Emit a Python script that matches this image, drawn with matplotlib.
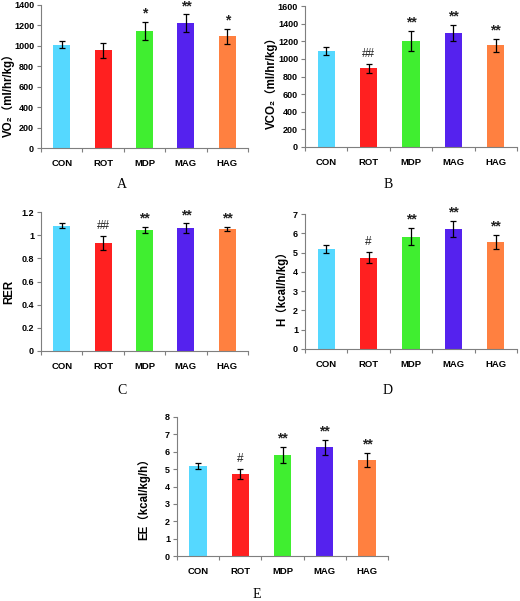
import numpy as np
import matplotlib.pyplot as plt

groups = ["CON", "ROT", "MDP", "MAG", "HAG"]
colors = ["#55d8ff", "#ff2020", "#40ee30", "#5522ee", "#ff8040"]

vo2 = [1012, 958, 1143, 1222, 1092]
vo2_err = [37, 72, 88, 86, 76]
vo2_sig = ["", "", "*", "**", "*"]

vco2 = [1088, 892, 1202, 1296, 1152]
vco2_err = [48, 49, 112, 94, 75]
vco2_sig = ["", "##", "**", "**", "**"]

rer = [1.083, 0.931, 1.045, 1.061, 1.052]
rer_err = [0.018, 0.058, 0.028, 0.04, 0.02]
rer_sig = ["", "##", "**", "**", "**"]

h = [5.18, 4.74, 5.83, 6.23, 5.56]
h_err = [0.19, 0.3, 0.43, 0.43, 0.37]
h_sig = ["", "#", "**", "**", "**"]

ee = [5.18, 4.73, 5.82, 6.25, 5.54]
ee_err = [0.18, 0.29, 0.45, 0.42, 0.39]
ee_sig = ["", "#", "**", "**", "**"]

W, H = 520, 601
fig = plt.figure(figsize=(W / 100, H / 100), dpi=100)
sans = ["Liberation Sans", "Noto Sans CJK SC", "DejaVu Sans"]


def panel(left, right, top, bottom, vals, errs, sig, ymax, ystep, ylabel, ylx, yly,
          letter, lx, ly):
    ax = fig.add_axes([left / W, 1 - bottom / H, (right - left) / W, (bottom - top) / H])
    x = np.arange(len(groups))
    ax.bar(x, vals, width=0.41, color=colors, zorder=2)
    ax.errorbar(x, vals, yerr=errs, fmt="none", ecolor="black", elinewidth=0.9,
                capsize=2.2, capthick=0.9, zorder=3)
    for xi, v, e, s in zip(x, vals, errs, sig):
        if not s:
            continue
        if s.startswith("*"):
            ax.annotate(s, (xi, v + e), xytext=(0, 1), textcoords="offset points",
                        ha="center", va="bottom", fontsize=10, fontweight="bold",
                        family=sans, color="#222222")
        else:
            ax.annotate(s, (xi, v + e), xytext=(0, 3), textcoords="offset points",
                        ha="center", va="bottom", fontsize=8.5,
                        family=sans, color="#222222")
    ax.set_xlim(-0.5, len(groups) - 0.5)
    ax.set_ylim(0, ymax)
    ax.set_yticks(np.arange(0, ymax + ystep / 2, ystep))
    ax.set_yticklabels(["{:g}".format(round(t, 2)) for t in ax.get_yticks()])
    ax.set_xticks(x)
    ax.set_xticklabels(groups)
    ax.set_xticks(np.arange(-0.5, len(groups)), minor=True)
    ax.tick_params(axis="x", which="major", length=0, pad=8)
    ax.tick_params(axis="x", which="minor", length=3, color="#7f7f7f", width=0.8)
    ax.tick_params(axis="y", length=3, color="#7f7f7f", width=0.8, pad=2)
    for lab in ax.get_yticklabels():
        lab.set_fontweight("bold")
        lab.set_family(sans)
        lab.set_fontsize(6.5)
    for lab in ax.get_xticklabels():
        lab.set_fontweight("bold")
        lab.set_family(sans)
        lab.set_fontsize(6.8)
    for s in ["top", "right"]:
        ax.spines[s].set_visible(False)
    for s in ["left", "bottom"]:
        ax.spines[s].set_color("#7f7f7f")
        ax.spines[s].set_linewidth(0.8)
    ax.set_ylabel(ylabel, fontsize=8.3, fontweight="bold", family=sans)
    ax.yaxis.label.set_va("center")
    ax.yaxis.set_label_coords((ylx - left) / (right - left),
                              (bottom - yly) / (bottom - top))
    fig.text(lx / W, 1 - ly / H, letter, ha="center", va="center",
             fontsize=10, family="Liberation Serif")
    return ax


panel(41, 248, 5, 148, vo2, vo2_err, vo2_sig, 1400, 200, "VO₂（ml/hr/kg）", 8, 92,
      "A", 122, 185)
panel(305, 517, 6, 147, vco2, vco2_err, vco2_sig, 1600, 200, "VCO₂（ml/hr/kg）", 271, 80,
      "B", 388, 185)
panel(41, 248, 212, 351, rer, rer_err, rer_sig, 1.2, 0.2, "RER", 9, 292,
      "C", 122, 390)
panel(305, 517, 214, 349, h, h_err, h_sig, 7, 1, "H（kcal/h/kg）", 282, 286,
      "D", 388, 390)
panel(177, 388, 417, 556, ee, ee_err, ee_sig, 8, 1, "EE（kcal/kg/h）", 144, 496,
      "E", 257, 595)

fig.savefig("out.png", dpi=100, facecolor="white")
